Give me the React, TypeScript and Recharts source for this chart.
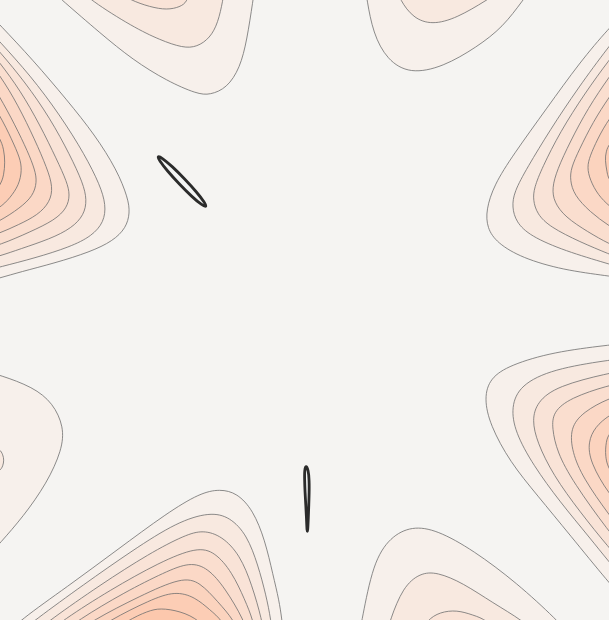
import React from 'react';
import { ScatterChart, Scatter, XAxis, YAxis } from 'recharts';

type Pt = [number, number];

const BACKGROUND = '#f5f4f2';
const LEVEL_FILLS = ['#f7f0eb', '#f8e9e0', '#f9e3d7', '#fadecf', '#fbd8c6', '#fbd3be', '#fccdb5', '#fcc8ad'];
const LINE_COLOR = '#6f6f6f';
const ZERO_COLOR = '#2b2b2b';

// lobe on the left edge, upper half (outer level first)
const leftUpper: Pt[][] = [
  [[-20, 4], [0, 25], [33, 60], [67, 100], [95, 135], [117, 170], [128, 198], [130, 213], [126, 228], [113, 241], [90, 252], [55, 263], [20, 272], [0, 278], [-20, 283]],
  [[-20, 20], [0, 42], [30, 75], [60, 115], [85, 155], [100, 185], [106, 205], [104, 222], [92, 236], [70, 247], [35, 258], [0, 267], [-20, 272]],
  [[-20, 30], [0, 52], [25, 82], [50, 118], [70, 155], [83, 183], [87, 200], [84, 215], [72, 228], [50, 239], [20, 249], [0, 256], [-20, 261]],
  [[-20, 38], [0, 63], [20, 90], [40, 125], [57, 160], [67, 182], [70, 195], [67, 208], [55, 220], [30, 232], [0, 245], [-20, 250]],
  [[-20, 50], [0, 75], [18, 105], [35, 140], [47, 168], [53, 187], [50, 202], [38, 215], [18, 225], [0, 233], [-20, 240]],
  [[-20, 65], [0, 97], [15, 125], [28, 152], [35, 170], [37, 182], [33, 196], [20, 208], [0, 221], [-20, 230]],
  [[-20, 85], [0, 115], [12, 140], [20, 158], [22, 170], [19, 185], [10, 198], [0, 208], [-20, 218]],
  [[-15, 120], [0, 137], [4, 150], [5, 162], [4, 175], [0, 187], [-15, 200]],
];

// lobe on the right edge, upper half
const rightUpper: Pt[][] = [
  [[629, 8], [609, 28], [580, 62], [547, 108], [513, 155], [494, 185], [486, 210], [487, 228], [497, 243], [522, 258], [563, 270], [609, 276], [629, 279]],
  [[629, 22], [609, 46], [578, 88], [550, 130], [527, 168], [514, 192], [512, 207], [516, 222], [530, 236], [565, 251], [609, 264], [629, 270]],
  [[629, 35], [609, 60], [585, 93], [560, 132], [542, 168], [534, 188], [533, 200], [537, 214], [550, 227], [580, 242], [609, 254], [629, 262]],
  [[629, 50], [609, 77], [588, 108], [570, 142], [557, 170], [552, 188], [554, 202], [565, 217], [588, 232], [609, 244], [629, 252]],
  [[629, 70], [609, 97], [593, 122], [579, 150], [571, 168], [570, 180], [574, 195], [590, 212], [609, 226], [629, 238]],
  [[629, 95], [609, 118], [597, 140], [590, 156], [587, 167], [590, 180], [598, 195], [609, 206], [629, 222]],
  [[629, 125], [609, 143], [606, 152], [605, 160], [607, 172], [609, 182], [629, 195]],
];

// lobe on the right edge, lower half
const rightLower: Pt[][] = [
  [[629, 343], [609, 345], [553, 352], [510, 365], [490, 378], [484, 398], [490, 425], [510, 462], [537, 495], [570, 535], [609, 583], [629, 605]],
  [[629, 358], [609, 360], [553, 369], [520, 385], [511, 407], [515, 432], [533, 465], [560, 502], [590, 538], [609, 562], [629, 585]],
  [[629, 370], [609, 373], [557, 386], [537, 402], [532, 420], [537, 442], [553, 475], [580, 512], [609, 548], [629, 570]],
  [[629, 382], [609, 385], [570, 398], [553, 412], [552, 428], [557, 452], [573, 482], [609, 532], [629, 555]],
  [[629, 393], [609, 398], [583, 412], [570, 428], [572, 452], [583, 478], [609, 515], [629, 540]],
  [[629, 405], [609, 415], [595, 427], [588, 442], [590, 462], [609, 495], [629, 515]],
  [[629, 420], [609, 432], [606, 442], [605, 456], [609, 472], [629, 490]],
];

// lobe on the top edge, centre-left
const topCentre: Pt[][] = [
  [[45, -15], [62, 0], [100, 33], [133, 60], [167, 81], [197, 94], [210, 95], [227, 88], [240, 68], [247, 40], [253, 0], [256, -20]],
  [[75, -15], [90, 0], [133, 27], [160, 40], [183, 48], [197, 47], [210, 38], [218, 23], [223, 0], [225, -15]],
  [[115, -10], [130, 0], [150, 7], [167, 10], [180, 7], [187, 2], [190, -10]],
];

// lobe on the top edge, right
const topRight: Pt[][] = [
  [[364, -20], [367, 0], [373, 33], [387, 60], [410, 74], [443, 67], [477, 47], [503, 27], [523, 0], [538, -20]],
  [[395, -15], [400, 0], [413, 18], [432, 25], [457, 18], [487, 0], [505, -12]],
];

// lobe on the bottom edge, right of centre
const bottomRight: Pt[][] = [
  [[358, 640], [362, 620], [373, 563], [390, 537], [412, 526], [437, 530], [473, 550], [517, 583], [557, 620], [575, 640]],
  [[385, 640], [390, 620], [403, 587], [420, 573], [437, 572], [463, 583], [493, 603], [522, 620], [545, 640]],
  [[420, 635], [427, 620], [440, 612], [457, 610], [473, 615], [487, 620], [500, 635]],
];

// lobe on the bottom edge, left of centre
const bottomLeft: Pt[][] = [
  [[0, 640], [20, 620], [67, 587], [117, 550], [167, 513], [200, 493], [220, 489], [237, 493], [253, 510], [265, 540], [273, 575], [279, 600], [282, 620], [284, 640]],
  [[10, 640], [35, 620], [83, 585], [133, 550], [177, 522], [210, 512], [230, 517], [247, 535], [258, 565], [266, 595], [271, 620], [273, 640]],
  [[25, 640], [50, 620], [100, 585], [150, 553], [185, 535], [203, 530], [222, 536], [240, 555], [252, 585], [262, 620], [265, 640]],
  [[38, 640], [63, 620], [110, 590], [160, 562], [197, 547], [215, 552], [232, 572], [245, 600], [253, 620], [257, 640]],
  [[52, 640], [78, 620], [125, 592], [165, 572], [190, 562], [208, 568], [225, 588], [244, 620], [250, 640]],
  [[65, 640], [93, 620], [140, 596], [182, 577], [200, 582], [218, 602], [234, 620], [242, 640]],
  [[80, 640], [110, 620], [150, 600], [175, 591], [195, 597], [210, 610], [222, 620], [232, 640]],
  [[100, 640], [128, 620], [148, 611], [160, 608], [180, 611], [200, 620], [215, 640]],
];

// lobe on the left edge, lower half
const leftLower: Pt[][] = [
  [[-20, 370], [0, 375], [33, 387], [53, 403], [64, 427], [62, 450], [47, 483], [23, 517], [0, 543], [-15, 560]],
  [[-10, 445], [0, 449], [3, 455], [4, 460], [3, 466], [0, 471], [-10, 476]],
];

// closed zero-level loops
const zeroLoops: Pt[][] = [
  [[206.8, 207.4], [202.1, 205.3], [192, 196.8], [179.3, 184.1], [167.2, 170.8], [159.1, 160.3], [157.2, 155.6], [161.9, 157.7], [172, 166.2], [184.7, 178.9], [196.8, 192.2], [204.9, 202.7]],
  [[306, 465], [308.3, 470], [309.2, 480], [309.2, 492], [308.8, 505], [308.3, 518], [307.7, 532], [307, 532], [306.5, 518], [305.8, 505], [305, 492], [304.6, 480], [304.5, 470]],
];

const lobes = [leftUpper, rightUpper, rightLower, topCentre, topRight, bottomRight, bottomLeft, leftLower];

const contours = lobes.flatMap((lobe) =>
  lobe.map((pts, level) => ({ data: pts.map(([x, y]) => ({ x, y })), fill: LEVEL_FILLS[level] })),
);

const hidden = () => <g />;

const App: React.FC = () => {
  return (
    <div style={{ position: 'absolute', left: 0, top: 0, width: 609, height: 620, background: BACKGROUND }}>
      <ScatterChart width={609} height={620} margin={{ top: 0, right: 0, bottom: 0, left: 0 }}>
        <XAxis type="number" dataKey="x" domain={[0, 609]} allowDataOverflow hide />
        <YAxis type="number" dataKey="y" domain={[0, 620]} reversed allowDataOverflow hide />
        {contours.map((c, i) => (
          <Scatter
            key={`c${i}`}
            data={c.data}
            line={{ fill: c.fill, stroke: LINE_COLOR, strokeWidth: 0.8 }}
            lineJointType="basis"
            shape={hidden}
            isAnimationActive={false}
          />
        ))}
        {zeroLoops.map((pts, i) => (
          <Scatter
            key={`z${i}`}
            data={pts.map(([x, y]) => ({ x, y }))}
            line={{ fill: '#f3f5f5', stroke: ZERO_COLOR, strokeWidth: 2.8 }}
            lineJointType="basisClosed"
            shape={hidden}
            isAnimationActive={false}
          />
        ))}
      </ScatterChart>
    </div>
  );
};

export default App;
